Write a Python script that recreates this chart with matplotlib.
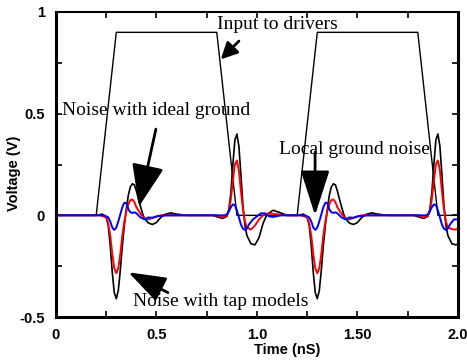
import matplotlib
matplotlib.use("Agg")
import matplotlib.pyplot as plt

# driver input (trapezoid pulses)
in_t = [0.0, 0.2, 0.3, 0.8, 0.9, 1.2, 1.3, 1.8, 1.9, 2.0]
in_v = [0.0, 0.0, 0.9, 0.9, 0.0, 0.0, 0.9, 0.9, 0.0, 0.0]

# noise with tap models (black)
k_t = [0.0, 0.20, 0.23, 0.25, 0.26, 0.27, 0.28, 0.29, 0.30, 0.31, 0.32, 0.33, 0.34, 0.35,
       0.36, 0.37, 0.38, 0.39, 0.40, 0.41, 0.42, 0.43, 0.44, 0.46, 0.48, 0.50, 0.52, 0.54,
       0.57, 0.60, 0.65, 0.78, 0.81, 0.83, 0.85, 0.86, 0.87, 0.88, 0.89, 0.90, 0.91, 0.92,
       0.93, 0.94, 0.95, 0.97, 0.99, 1.01, 1.03, 1.05, 1.08, 1.11, 1.15,
       1.20, 1.23, 1.25, 1.26, 1.27, 1.28, 1.29, 1.30, 1.31, 1.32, 1.33, 1.34, 1.35,
       1.36, 1.37, 1.38, 1.39, 1.40, 1.41, 1.42, 1.43, 1.44, 1.46, 1.48, 1.50, 1.52, 1.54,
       1.57, 1.60, 1.65, 1.78, 1.81, 1.83, 1.85, 1.86, 1.87, 1.88, 1.89, 1.90, 1.91, 1.92,
       1.93, 1.94, 1.95, 1.97, 1.99, 2.0]
k_v = [0.0, 0.0, 0.006, -0.01, -0.05, -0.15, -0.28, -0.38, -0.41, -0.37, -0.27, -0.15, -0.05, 0.03,
       0.10, 0.14, 0.155, 0.15, 0.12, 0.08, 0.045, 0.01, -0.015, -0.038, -0.045, -0.035, -0.012, 0.004,
       0.012, 0.006, 0.0, 0.0, -0.01, -0.015, -0.005, 0.03, 0.11, 0.25, 0.37, 0.40, 0.34, 0.20,
       0.05, -0.05, -0.10, -0.14, -0.145, -0.11, -0.04, 0.005, 0.025, 0.015, 0.0,
       0.0, 0.006, -0.01, -0.05, -0.15, -0.28, -0.38, -0.41, -0.37, -0.27, -0.15, -0.05, 0.03,
       0.10, 0.14, 0.155, 0.15, 0.12, 0.08, 0.045, 0.01, -0.015, -0.038, -0.045, -0.035, -0.012, 0.004,
       0.012, 0.006, 0.0, 0.0, -0.01, -0.015, -0.005, 0.03, 0.11, 0.25, 0.37, 0.40, 0.34, 0.20,
       0.05, -0.05, -0.10, -0.14, -0.145, -0.14]

# noise with ideal ground (red)
r_t = [0.0, 0.22, 0.25, 0.26, 0.27, 0.28, 0.29, 0.30, 0.31, 0.32, 0.33, 0.34, 0.35, 0.36,
       0.37, 0.38, 0.39, 0.40, 0.42, 0.44, 0.46, 0.48, 0.52, 0.80, 0.83, 0.85, 0.86, 0.87,
       0.88, 0.89, 0.90, 0.91, 0.92, 0.93, 0.94, 0.95, 0.97, 0.99, 1.01, 1.03, 1.06, 1.10, 1.15,
       1.22, 1.25, 1.26, 1.27, 1.28, 1.29, 1.30, 1.31, 1.32, 1.33, 1.34, 1.35, 1.36,
       1.37, 1.38, 1.39, 1.40, 1.42, 1.44, 1.46, 1.48, 1.52, 1.80, 1.83, 1.85, 1.86, 1.87,
       1.88, 1.89, 1.90, 1.91, 1.92, 1.93, 1.94, 1.95, 1.97, 1.99, 2.0]
r_v = [0.0, 0.0, -0.01, -0.04, -0.10, -0.19, -0.26, -0.285, -0.26, -0.19, -0.10, -0.03, 0.02, 0.055,
       0.075, 0.078, 0.065, 0.04, 0.008, -0.015, -0.02, -0.012, 0.0, 0.0, -0.01, -0.002, 0.02, 0.08,
       0.17, 0.25, 0.27, 0.22, 0.12, 0.03, -0.03, -0.06, -0.07, -0.05, -0.02, 0.0, 0.01, 0.005, 0.0,
       0.0, -0.01, -0.04, -0.10, -0.19, -0.26, -0.285, -0.26, -0.19, -0.10, -0.03, 0.02, 0.055,
       0.075, 0.078, 0.065, 0.04, 0.008, -0.015, -0.02, -0.012, 0.0, 0.0, -0.01, -0.002, 0.02, 0.08,
       0.17, 0.25, 0.27, 0.22, 0.12, 0.03, -0.03, -0.06, -0.068, -0.07, -0.065]

# local ground noise (blue)
b_t = [0.0, 0.24, 0.26, 0.27, 0.28, 0.29, 0.30, 0.31, 0.32, 0.33, 0.34, 0.35, 0.36, 0.37,
       0.38, 0.39, 0.40, 0.42, 0.44, 0.46, 0.48, 0.50, 0.55, 0.84, 0.85, 0.86, 0.87, 0.88,
       0.89, 0.90, 0.91, 0.92, 0.93, 0.94, 0.95, 0.96, 0.98, 1.00, 1.02, 1.04, 1.06, 1.08, 1.12,
       1.24, 1.26, 1.27, 1.28, 1.29, 1.30, 1.31, 1.32, 1.33, 1.34, 1.35, 1.36, 1.37,
       1.38, 1.39, 1.40, 1.42, 1.44, 1.46, 1.48, 1.50, 1.55, 1.84, 1.85, 1.86, 1.87, 1.88,
       1.89, 1.90, 1.91, 1.92, 1.93, 1.94, 1.95, 1.96, 1.98, 2.0]
b_v = [0.0, 0.0, -0.01, -0.03, -0.06, -0.072, -0.06, -0.03, 0.005, 0.04, 0.062, 0.06, 0.03, 0.015,
       0.012, 0.015, 0.01, -0.01, -0.02, -0.01, -0.012, -0.005, 0.0, 0.0, 0.005, 0.02, 0.04, 0.054,
       0.05, 0.025, -0.01, -0.045, -0.065, -0.072, -0.065, -0.045, -0.02, -0.005, 0.01, 0.01, -0.005, -0.008, 0.0,
       0.0, -0.01, -0.03, -0.06, -0.072, -0.06, -0.03, 0.005, 0.04, 0.062, 0.06, 0.03, 0.015,
       0.012, 0.015, 0.01, -0.01, -0.02, -0.01, -0.012, -0.005, 0.0, 0.0, 0.005, 0.02, 0.04, 0.054,
       0.05, 0.025, -0.01, -0.045, -0.065, -0.072, -0.065, -0.045, -0.02, -0.02]

x_ticks = [0, 0.5, 1.0, 1.5, 2.0]
x_labels = ["0", "0.5", "1.0", "1.50", "2.0"]
y_ticks = [-0.5, 0, 0.5, 1]
y_labels = ["-0.5", "0", "0.5", "1"]

fig = plt.figure(figsize=(4.67, 3.6), dpi=100)
ax = fig.add_axes([0.1199, 0.1194, 0.8608, 0.8473])

ax.plot(in_t, in_v, color="black", lw=1.0)
ax.plot(k_t, k_v, color="black", lw=1.2)
ax.plot(r_t, r_v, color="red", lw=1.4)
ax.plot(b_t, b_v, color="blue", lw=1.4)

ax.set_xlim(0, 2.0)
ax.set_ylim(-0.5, 1.0)
ax.set_xticks(x_ticks)
ax.set_xticklabels(x_labels)
ax.set_xticks([0.25, 0.75, 1.25, 1.75], minor=True)
ax.set_yticks(y_ticks)
ax.set_yticklabels(y_labels)
ax.set_yticks([-0.25, 0.25, 0.75], minor=True)
ax.tick_params(which="both", direction="in", top=True, right=True,
               length=4, width=1.2, pad=8)
for lab in ax.get_xticklabels() + ax.get_yticklabels():
    lab.set_fontfamily("Liberation Sans")
    lab.set_fontweight("bold")
    lab.set_fontsize(10.5)

for side in ["left", "right", "bottom"]:
    ax.spines[side].set_linewidth(2.2)
ax.spines["top"].set_linewidth(1.5)

ax.set_xlabel("Time (nS)", fontfamily="Liberation Sans", fontweight="bold",
              fontsize=10.5)
ax.xaxis.set_label_coords(0.575, -0.085)
ax.set_ylabel("Voltage (V)", fontfamily="Liberation Sans", fontweight="bold",
              fontsize=10.5)
ax.yaxis.set_label_coords(-0.087, 0.47)

serif = dict(fontfamily="Liberation Serif", fontsize=14, va="baseline")

def note(txt, tx, ty, tip, tail, hl, hw):
    ax.text(tx, ty, txt, **serif)
    ax.annotate("", xy=tip, xytext=tail,
                arrowprops=dict(arrowstyle=f"-|>,head_length={hl},head_width={hw}",
                                mutation_scale=1, lw=2.0, color="black",
                                shrinkA=0, shrinkB=0))

note("Input to drivers", 0.80, 0.915, (0.82, 0.767), (0.91, 0.857), 10, 5)
note("Noise with ideal ground", 0.03, 0.492, (0.413, 0.044), (0.497, 0.424), 26, 10)
note("Local ground noise", 1.11, 0.30, (1.289, 0.0), (1.289, 0.31), 28, 9)
note("Noise with tap models", 0.383, -0.446, (0.36, -0.28), (0.557, -0.38), 23, 8)

fig.savefig("out.png", dpi=100)
